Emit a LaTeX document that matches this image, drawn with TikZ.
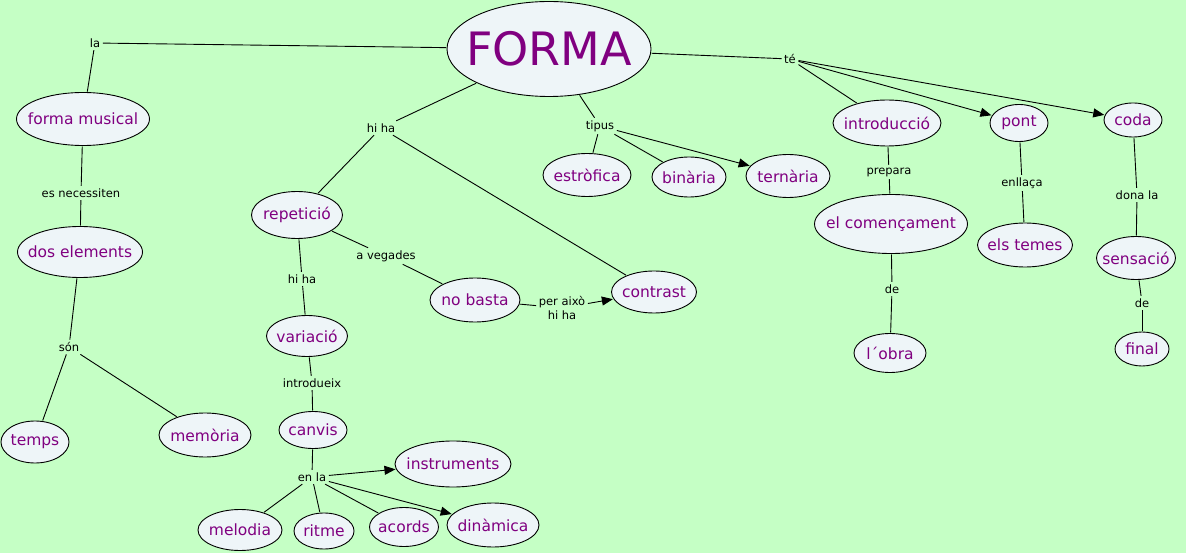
\documentclass[tikz,border=0pt]{standalone}
\usepackage{fontspec}
\setmainfont{DejaVu Sans}
\usetikzlibrary{shapes.geometric,arrows.meta}
\definecolor{bg}{RGB}{197,255,197}
\definecolor{nodefill}{RGB}{238,245,248}
\definecolor{txt}{RGB}{128,0,128}
\tikzset{
 concept/.style={ellipse, draw=black, line width=0.9pt, fill=nodefill, inner sep=0pt, outer sep=1pt},
 ctext/.style={text=txt, inner sep=0pt, font=\fontsize{15.5}{18}\selectfont},
 lbl/.style={inner sep=2.5pt, font=\fontsize{11.5}{13}\selectfont, text=black, align=center},
 conn/.style={draw=black, line width=0.9pt},
 arr/.style={conn, -{Triangle[length=11pt,width=9pt]}},
}
\newcommand{\cnode}[6]{\node[concept, minimum width=#4pt, minimum height=#5pt, label={[ctext]center:#6}] (#1) at (#2,#3) {};}
\begin{document}
\begin{tikzpicture}[x=1pt,y=-1pt]
\path[fill=bg] (0,0) rectangle (1186,553);
% concepts
\node[concept, minimum width=204pt, minimum height=95pt, label={[ctext, font=\fontsize{46}{50}\selectfont]center:FORMA}] (forma) at (549,49) {};
\cnode{formamusical}{83}{119}{133}{53}{forma musical}
\cnode{dos}{80}{252}{125}{51}{dos elements}
\cnode{temps}{35}{442}{68}{42}{temps}
\cnode{memoria}{205}{435}{92}{44}{memòria}
\cnode{repeticio}{297}{215}{91}{47}{repetició}
\cnode{variacio}{307}{336}{81}{41}{variació}
\cnode{nobasta}{475}{300}{90}{44}{no basta}
\cnode{contrast}{654}{292}{85}{42}{contrast}
\cnode{canvis}{313}{430}{68}{37}{canvis}
\cnode{instruments}{453}{464}{116}{46}{instruments}
\cnode{melodia}{240}{530}{84}{41}{melodia}
\cnode{ritme}{324}{531}{60}{36}{ritme}
\cnode{acords}{404}{527}{69}{39}{acords}
\cnode{dinamica}{493}{525}{92}{44}{dinàmica}
\cnode{estrofica}{587}{175}{88}{43}{estròfica}
\cnode{binaria}{689}{177}{74}{40}{binària}
\cnode{ternaria}{788}{176}{84}{43}{ternària}
\cnode{introduccio}{887}{123}{108}{46}{introducció}
\cnode{pont}{1019}{123}{58}{37}{pont}
\cnode{coda}{1133}{120}{58}{34}{coda}
\cnode{comencament}{891}{224}{153}{59}{el començament}
\cnode{lobra}{890}{353}{72}{39}{l´obra}
\cnode{elstemes}{1025}{245}{95}{44}{els temes}
\cnode{sensacio}{1136}{258}{79}{43}{sensació}
\cnode{final}{1142}{349}{54}{34}{final}
% linking labels
\node[lbl] (la) at (95,43) {la};
\node[lbl] (esnec) at (81,193) {es necessiten};
\node[lbl] (son) at (69,347) {són};
\node[lbl] (hiha1) at (381,128) {hi ha};
\node[lbl] (hiha2) at (302,279) {hi ha};
\node[lbl] (avegades) at (386,256) {a vegades};
\node[lbl, font=\fontsize{11.5}{14}\selectfont] (peraixo) at (562,308) {per això\\hi ha};
\node[lbl] (introdueix) at (312,383) {introdueix};
\node[lbl] (enla) at (312,477) {en la};
\node[lbl] (tipus) at (600,126) {tipus};
\node[lbl] (te) at (790,59) {té};
\node[lbl] (prepara) at (889,172) {prepara};
\node[lbl] (de1) at (892,289) {de};
\node[lbl] (enllaca) at (1022,183) {enllaça};
\node[lbl] (donala) at (1137,195) {dona la};
\node[lbl] (de2) at (1142,303) {de};
% connectors
\draw[conn] (forma) -- (la);
\draw[conn] (la) -- (formamusical);
\draw[conn] (formamusical) -- (esnec);
\draw[conn] (esnec) -- (dos);
\draw[conn] (dos) -- (son);
\draw[conn] (son) -- (temps);
\draw[conn] (son) -- (memoria);
\draw[conn] (forma) -- (hiha1);
\draw[conn] (hiha1) -- (repeticio);
\draw[conn] (hiha1) -- (contrast);
\draw[conn] (repeticio) -- (hiha2);
\draw[conn] (hiha2) -- (variacio);
\draw[conn] (repeticio) -- (avegades);
\draw[conn] (avegades) -- (nobasta);
\draw[conn] (nobasta) -- (peraixo);
\draw[arr] (peraixo) -- (contrast);
\draw[conn] (variacio) -- (introdueix);
\draw[conn] (introdueix) -- (canvis);
\draw[conn] (canvis) -- (enla);
\draw[conn] (enla) -- (melodia);
\draw[conn] (enla) -- (ritme);
\draw[conn] (enla) -- (acords);
\draw[arr] (enla) -- (instruments);
\draw[arr] (enla) -- (dinamica);
\draw[conn] (forma) -- (tipus);
\draw[conn] (tipus) -- (estrofica);
\draw[conn] (tipus) -- (binaria);
\draw[arr] (tipus) -- (ternaria);
\draw[conn] (forma) -- (te);
\draw[conn] (te) -- (introduccio);
\draw[arr] (te) -- (pont);
\draw[arr] (te) -- (coda);
\draw[conn] (introduccio) -- (prepara);
\draw[conn] (prepara) -- (comencament);
\draw[conn] (comencament) -- (de1);
\draw[conn] (de1) -- (lobra);
\draw[conn] (pont) -- (enllaca);
\draw[conn] (enllaca) -- (elstemes);
\draw[conn] (coda) -- (donala);
\draw[conn] (donala) -- (sensacio);
\draw[conn] (sensacio) -- (de2);
\draw[conn] (de2) -- (final);
\end{tikzpicture}
\end{document}
